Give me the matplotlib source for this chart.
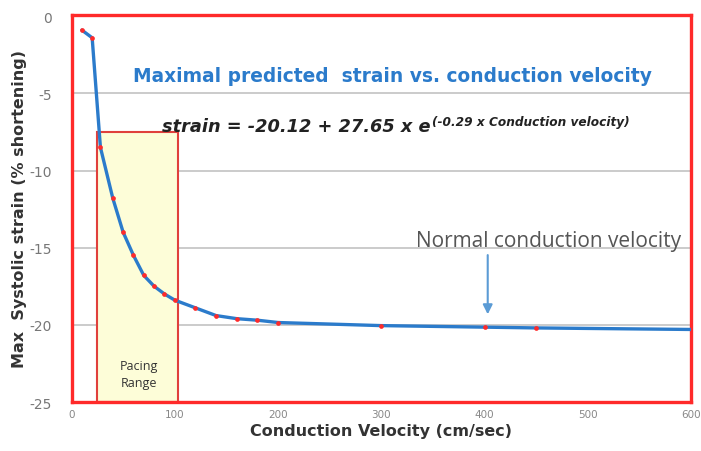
import matplotlib
matplotlib.use("Agg")
import matplotlib.pyplot as plt
from matplotlib.patches import Rectangle

velocity = [10, 20, 28, 40, 50, 60, 70, 80, 90, 100, 120, 140, 160, 180, 200, 300, 400, 450]
strain = [-0.9, -1.4, -8.5, -11.8, -14.0, -15.5, -16.8, -17.5, -18.0, -18.4, -18.9, -19.4,
          -19.6, -19.7, -19.85, -20.05, -20.15, -20.2]
line_end_x = 600
line_end_y = -20.3
x_ticks = [0, 100, 200, 300, 400, 500, 600]
y_ticks = [0, -5, -10, -15, -20, -25]
pacing_range = (25, 103)
pacing_top = -7.5
normal_cv = 400

fig = plt.figure(figsize=(7.01, 4.52), dpi=100)
ax = fig.add_axes([0.102, 0.1084, 0.884, 0.857])
ax.set_xlim(0, 600)
ax.set_ylim(-25, 0.1)

for yv in [-5, -10, -15, -20]:
    ax.axhline(yv, color='#BDBDBD', lw=1.1, zorder=1)

ax.add_patch(Rectangle((pacing_range[0], -25), pacing_range[1] - pacing_range[0], pacing_top + 25,
                       facecolor='#FDFDD8', edgecolor='#E0403C', lw=1.5, zorder=2))

ax.plot(velocity + [line_end_x], strain + [line_end_y], color='#2B7BCB', lw=2.4, zorder=3,
        solid_capstyle='round')
ax.plot(velocity, strain, 'o', color='#FF2A2A', ms=3.4, mec='none', zorder=4)

for s in ax.spines.values():
    s.set_color('#FF2A2A')
    s.set_linewidth(2.4)

ax.set_xticks(x_ticks)
ax.set_xticklabels([str(v) for v in x_ticks], fontsize=7.5, color='#888888')
ax.set_yticks(y_ticks)
ax.set_yticklabels([str(v) for v in y_ticks], fontsize=10, color='#777777')
ax.tick_params(axis='both', length=0)
ax.tick_params(axis='y', pad=14)
ax.tick_params(axis='x', pad=5)

ax.set_xlabel('Conduction Velocity (cm/sec)', fontsize=11.5, fontweight='bold', color='#333333',
              labelpad=3)
ax.set_ylabel('Max  Systolic strain (% shortening)', fontsize=11.5, fontweight='bold',
              color='#333333', labelpad=2)

ax.text(311, -3.85, 'Maximal predicted  strain vs. conduction velocity', fontsize=13.4,
        fontweight='bold', color='#2B7BCB', ha='center', va='center', zorder=5)

t = ax.text(88, -7.42, 'strain = -20.12 + 27.65 x e', fontsize=12.8, fontweight='bold',
            fontstyle='italic', color='#222222', ha='left', va='baseline', zorder=5)
ax.annotate('(-0.29 x Conduction velocity)', xy=(1.0, -7.06), xycoords=(t, 'data'),
            xytext=(1, 0), textcoords='offset points', fontsize=8.7,
            fontweight='bold', fontstyle='italic', color='#222222', ha='left', va='baseline',
            zorder=5)

ax.text(65, -23.2, 'Pacing\nRange', fontsize=9, color='#333333', ha='center', va='center',
        linespacing=1.45, family='Open Sans', zorder=5)

ax.text(590, -14.55, 'Normal conduction velocity', fontsize=15, color='#555555',
        ha='right', va='center', family='Open Sans', zorder=5)
ax.annotate('', xy=(normal_cv + 3, -19.5), xytext=(normal_cv + 3, -15.3),
            arrowprops=dict(arrowstyle='-|>', color='#5B9BD5', lw=1.5, mutation_scale=14),
            zorder=5)

fig.savefig('out.png', dpi=100)
